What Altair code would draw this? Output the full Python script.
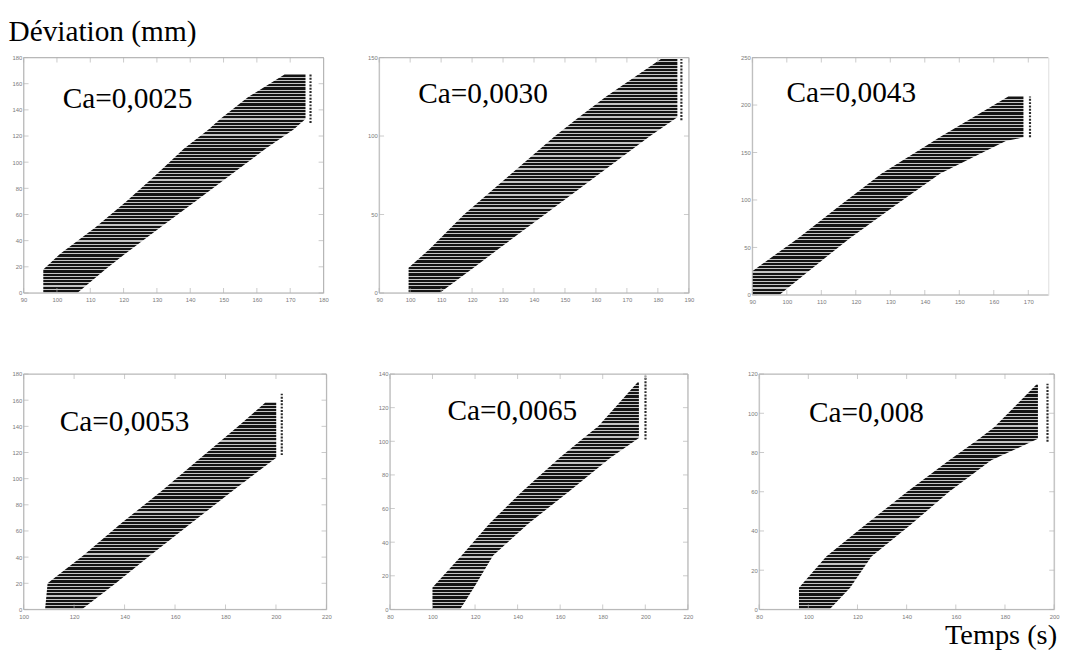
import altair as alt
import pandas as pd

# ---------------- data ----------------
LABELS = ["Ca=0,0025", "Ca=0,0030", "Ca=0,0043", "Ca=0,0053", "Ca=0,0065", "Ca=0,008"]

X_DOMAINS = [[90, 180], [90, 190], [90, 175.8], [100, 220], [80, 220], [80, 200]]
Y_DOMAINS = [[0, 180], [0, 150], [0, 250], [0, 180], [0, 140], [0, 120]]

X_TICKS = [
    [90, 100, 110, 120, 130, 140, 150, 160, 170, 180],
    [90, 100, 110, 120, 130, 140, 150, 160, 170, 180, 190],
    [90, 100, 110, 120, 130, 140, 150, 160, 170],
    [100, 120, 140, 160, 180, 200, 220],
    [80, 100, 120, 140, 160, 180, 200, 220],
    [80, 100, 120, 140, 160, 180, 200],
]
Y_TICKS = [
    [0, 20, 40, 60, 80, 100, 120, 140, 160, 180],
    [0, 50, 100, 150],
    [0, 50, 100, 150, 200, 250],
    [0, 20, 40, 60, 80, 100, 120, 140, 160, 180],
    [0, 20, 40, 60, 80, 100, 120, 140],
    [0, 20, 40, 60, 80, 100, 120],
]

# band of horizontal traces: deviation level, left end and right end (s)
BAND_Y = [
    [0, 18, 30, 50, 70, 90, 110, 125, 133, 150, 167],
    [0, 16, 28, 50, 75, 100, 112, 125, 149],
    [0, 25, 59, 94, 128, 162, 166, 197, 209],
    [0, 20, 41, 66, 91, 116, 141, 158],
    [0, 13, 32, 51, 70, 90, 102, 109, 135],
    [0, 11, 27, 43, 60, 76, 87, 93, 114.5],
]
BAND_L = [
    [95.9, 95.9, 101.0, 111.5, 120.8, 129.6, 138.0, 145.5, 149.0, 157.5, 168.3],
    [99.5, 99.5, 106.3, 117.4, 132.1, 146.8, 154.5, 163.2, 181.0],
    [90.0, 90.0, 103.0, 115.3, 127.5, 142.6, 144.3, 158.7, 164.2],
    [108.5, 109.5, 123.5, 138.8, 154.9, 170.2, 185.6, 195.7],
    [100.0, 100.0, 113.7, 126.7, 142.0, 159.6, 171.0, 177.9, 196.3],
    [96.2, 96.2, 107.3, 123.1, 140.2, 157.3, 169.5, 175.7, 192.7],
]
BAND_R = [
    [106.1, 114.5, 120.5, 131.0, 141.5, 152.0, 162.5, 171.0, 174.6, 174.6, 174.6],
    [109.5, 120.5, 128.5, 143.5, 160.5, 177.5, 186.3, 186.3, 186.3],
    [97.8, 106.3, 118.0, 131.3, 144.5, 163.5, 168.6, 168.6, 168.6],
    [123.0, 136.5, 150.0, 166.5, 183.0, 200.1, 200.1, 200.1],
    [112.9, 119.5, 128.5, 145.0, 164.0, 183.5, 197.0, 197.0, 197.0],
    [108.6, 117.0, 125.7, 141.5, 157.3, 174.4, 193.4, 193.4, 193.4],
]
# dotted column at the end of the traces: x, from y, to y
DOT_X = [176.1, 187.6, 170.5, 202.3, 200.1, 197.3]
DOT_Y0 = [130, 110, 166, 118, 101, 85.5]
DOT_Y1 = [167, 149, 209, 165, 139, 115]

# ---------------- style / layout ----------------
WIDTHS = [307, 317, 303, 310, 305, 302]
HEIGHTS = [241, 241, 243, 241, 241, 241]
Y_EXTENT = [15, 12, 12, 12, 12, 12]
N_STRIPES = [68, 72, 62, 64, 70, 70]
TEXT_POS = [(40, 52), (40, 47), (35, 46), (37, 58), (59, 47), (51, 49)]
FRAME = "#b4b4b4"
LABEL_C = "#7a7a7a"
SERIF = "Liberation Serif"


def stripes(n, frac=0.66, dark="#141414", light="#c4c4c4"):
    stops = []
    for k in range(n):
        a = k / n
        b = (k + frac) / n
        c = (k + 1) / n
        stops += [
            alt.GradientStop(color=dark, offset=a),
            alt.GradientStop(color=dark, offset=b),
            alt.GradientStop(color=light, offset=b),
            alt.GradientStop(color=light, offset=c),
        ]
    return alt.LinearGradient(gradient="linear", stops=stops, x1=0, x2=0, y1=0, y2=1)


def one():
    return alt.Data(values=[{"a": 1}])


def panel(i, right_frame=True, temps=False):
    w, h = WIDTHS[i], HEIGHTS[i]
    xs = alt.Scale(domain=X_DOMAINS[i], nice=False, zero=False)
    ys = alt.Scale(domain=Y_DOMAINS[i], nice=False, zero=False)
    common = dict(title=None, ticks=False, domain=False, grid=False, labelFontSize=6,
                  labelColor=LABEL_C, labelOverlap=False, labelFlush=False,
                  labelFont="Liberation Sans")
    xax = alt.Axis(values=X_TICKS[i], labelPadding=4, minExtent=12, maxExtent=12, **common)
    yax = alt.Axis(values=Y_TICKS[i], labelPadding=2, minExtent=Y_EXTENT[i],
                   maxExtent=Y_EXTENT[i], **common)
    df = pd.DataFrame({"y": BAND_Y[i], "xl": BAND_L[i], "xr": BAND_R[i]})
    band = alt.Chart(df).mark_area(orient="horizontal", color=stripes(N_STRIPES[i])).encode(
        y=alt.Y("y:Q", scale=ys, axis=yax),
        x=alt.X("xl:Q", scale=xs, axis=xax),
        x2="xr:Q",
    )
    ddf = pd.DataFrame({"x": [DOT_X[i]], "y0": [DOT_Y0[i]], "y1": [DOT_Y1[i]]})
    dots = alt.Chart(ddf).mark_rule(color="#2a2a2a", strokeWidth=2.2,
                                    strokeDash=[2, 1.4]).encode(
        x=alt.X("x:Q", scale=xs, axis=xax),
        y=alt.Y("y0:Q", scale=ys, axis=yax),
        y2="y1:Q",
    )
    layers = [band, dots]
    # frame
    layers.append(alt.Chart(one()).mark_rule(color=FRAME).encode(
        x=alt.value(0), x2=alt.value(w), y=alt.value(0)))
    layers.append(alt.Chart(one()).mark_rule(color=FRAME).encode(
        x=alt.value(0), x2=alt.value(w), y=alt.value(h)))
    layers.append(alt.Chart(one()).mark_rule(color=FRAME).encode(
        x=alt.value(0), y=alt.value(0), y2=alt.value(h)))
    if right_frame:
        layers.append(alt.Chart(one()).mark_rule(color=FRAME).encode(
            x=alt.value(w), y=alt.value(0), y2=alt.value(h)))
    # inward ticks
    xt = pd.DataFrame({"t": X_TICKS[i]})
    yt = pd.DataFrame({"t": Y_TICKS[i]})
    layers.append(alt.Chart(xt).mark_tick(color=FRAME, size=5, thickness=1).encode(
        x=alt.X("t:Q", scale=xs, axis=xax), y=alt.value(h - 2.5)))
    layers.append(alt.Chart(xt).mark_tick(color=FRAME, size=5, thickness=1).encode(
        x=alt.X("t:Q", scale=xs, axis=xax), y=alt.value(2.5)))
    layers.append(alt.Chart(yt).mark_tick(color=FRAME, size=5, thickness=1).encode(
        y=alt.Y("t:Q", scale=ys, axis=yax), x=alt.value(2.5)))
    if right_frame:
        layers.append(alt.Chart(yt).mark_tick(color=FRAME, size=5, thickness=1).encode(
            y=alt.Y("t:Q", scale=ys, axis=yax), x=alt.value(w - 2.5)))
    # Ca label
    tx, ty = TEXT_POS[i]
    layers.append(alt.Chart(one()).mark_text(font=SERIF, fontSize=30, align="left",
                                             baseline="alphabetic", color="black").encode(
        x=alt.value(tx), y=alt.value(ty), text=alt.value(LABELS[i])))
    if temps:
        layers.append(alt.Chart(one()).mark_text(font=SERIF, fontSize=29, align="right",
                                                 baseline="alphabetic", color="black").encode(
            x=alt.value(w + 3), y=alt.value(h + 35), text=alt.value("Temps (s)")))
    return alt.layer(*layers).properties(width=w, height=h)


row1 = alt.hconcat(panel(0),
                   alt.hconcat(panel(1), panel(2, right_frame=False), spacing=46),
                   spacing=38)
row2 = alt.hconcat(panel(3),
                   alt.hconcat(panel(4), panel(5, temps=True), spacing=54),
                   spacing=46)

chart = alt.vconcat(row1, row2, spacing=64).properties(
    padding={"left": 0, "top": 2, "right": 0, "bottom": 0},
    title=alt.Title("Déviation (mm)", anchor="start", font=SERIF, fontSize=30,
                    fontWeight="normal", color="black", offset=7),
).configure_view(stroke=None).configure(background="white")

chart.save("out.html", embed_options={"renderer": "svg", "actions": False})
